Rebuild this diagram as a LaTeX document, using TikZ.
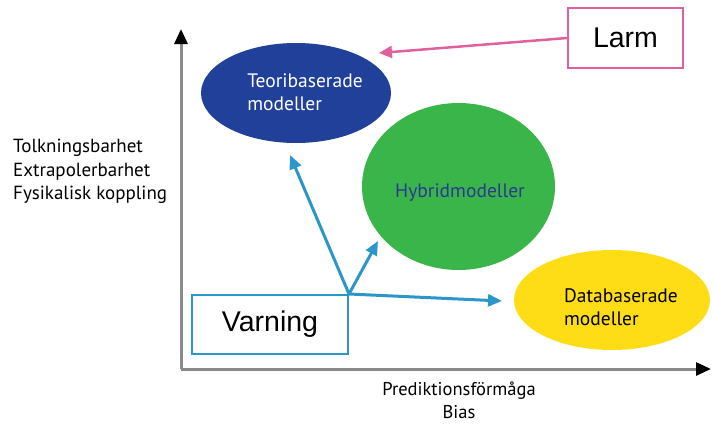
\documentclass[tikz,border=0pt]{standalone}
\usepackage{fontspec}
\usetikzlibrary{arrows.meta,shapes.geometric}
\newfontfamily\myr{PT Sans}
\newfontfamily\arl{Liberation Sans}
\definecolor{dblue}{HTML}{21409A}
\definecolor{mgreen}{HTML}{3AB54A}
\definecolor{myellow}{HTML}{FEDD17}
\definecolor{lblue}{HTML}{2B96C9}
\definecolor{mpink}{HTML}{E0609D}
\definecolor{axgray}{HTML}{8A8A8A}
\definecolor{htext}{HTML}{2B3990}
\begin{document}
\begin{tikzpicture}[x=1pt,y=-1pt,
  blob/.style={ellipse,inner sep=0pt,draw=none},
  axisline/.style={axgray,line width=3pt,-{Triangle[length=15pt,width=13pt,color=black]}},
  warnarrow/.style={lblue,line width=3pt,-{Triangle[length=14pt,width=12pt]}},
  alarmarrow/.style={mpink,line width=2.5pt,-{Triangle[length=13pt,width=12pt]}},
  boxlabel/.style={font=\arl\fontsize{28.5}{32}\selectfont,text=black,fill=white,line width=2pt,inner sep=0pt},
  txt/.style={font=\myr\fontsize{19.5}{23}\selectfont,align=left,inner sep=0pt}]
\useasboundingbox (0,0) rectangle (712,426);
% axes
\coordinate (o) at (181,369);
\coordinate (ytip) at (181,29);
\coordinate (xtip) at (711,369);
\draw[axisline] (o) -- (ytip);
\draw[axisline] (o) -- (xtip);
% ellipses
\node[blob,fill=dblue,minimum width=190pt,minimum height=100pt] (teo) at (296,93) {};
\node[txt,text=white] (teot) at (305,92) {Teoribaserade\\modeller};
\node[blob,fill=mgreen,minimum width=193pt,minimum height=167pt] (hyb) at (458.5,186.5) {};
\node[txt,text=htext] (hybt) at (460,193) {Hybridmodeller};
\node[blob,fill=myellow,minimum width=196pt,minimum height=100pt] (dat) at (612,300) {};
\node[txt,text=black] (datt) at (621,307) {Databaserade\\modeller};
% axis labels
\node[txt,font=\myr\fontsize{19}{23.5}\selectfont,anchor=north west] (ylab) at (13,139) {Tolkningsbarhet\\Extrapolerbarhet\\Fysikalisk koppling};
\node[txt,font=\myr\fontsize{18.5}{23}\selectfont,align=center,anchor=north] (xlab) at (459,382) {Prediktionsförmåga\\Bias};
% warning box
\node[boxlabel,draw=lblue,minimum width=156pt,minimum height=59pt] (varn) at (270,324.5) {Varning\hspace{15pt}};
\coordinate (a1) at (290,155);
\coordinate (a2) at (378,241);
\coordinate (a3) at (502,301);
\draw[warnarrow] (varn.north east) -- (a1);
\draw[warnarrow] (varn.north east) -- (a2);
\draw[warnarrow] (varn.north east) -- (a3);
% alarm box
\node[boxlabel,draw=mpink,minimum width=115pt,minimum height=60pt] (larm) at (625.5,38) {Larm\hspace{8pt}};
\coordinate (p1) at (379,53);
\draw[alarmarrow] (larm.west) -- (p1);
\end{tikzpicture}
\end{document}
